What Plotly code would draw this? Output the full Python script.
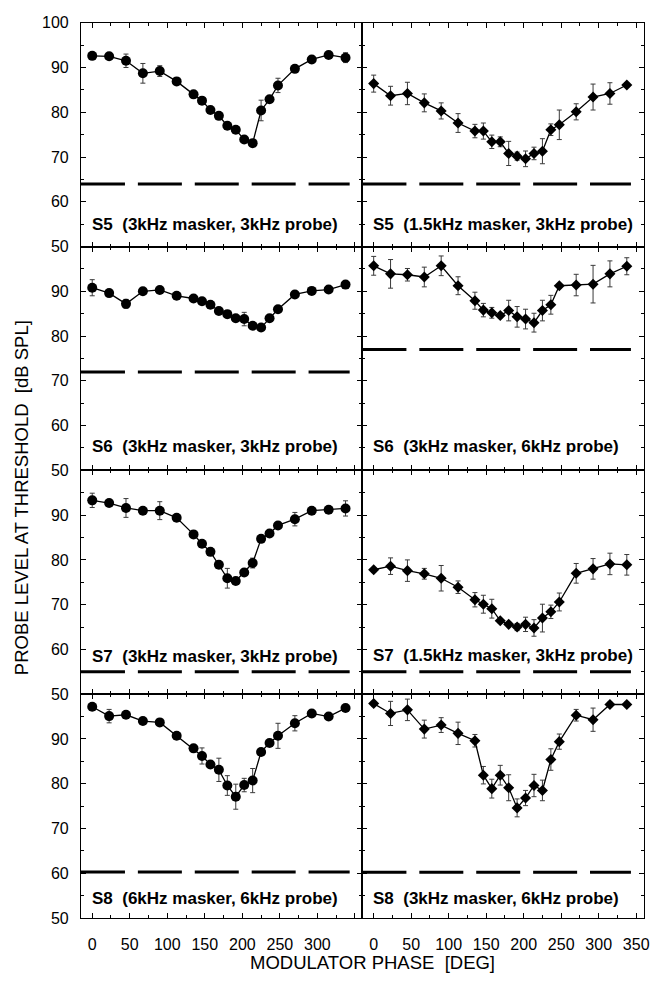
import plotly.graph_objects as go

# Modulator phase (deg) at which thresholds were measured
phase = [0, 22.5, 45, 67.5, 90, 112.5, 135, 146.25, 157.5, 168.75, 180,
         191.25, 202.5, 213.75, 225, 236.25, 247.5, 270, 292.5, 315, 337.5]

# Probe level at threshold (dB SPL) and error half-widths per panel
s5_same = [92.6, 92.5, 91.5, 88.7, 89.2, 86.9, 84.0, 82.6, 80.5, 79.2, 77.0,
           76.1, 73.9, 73.1, 80.4, 82.9, 86.0, 89.7, 91.8, 92.8, 92.2]
s5_same_err = [0.5, 0.5, 1.5, 2.2, 1.2, 0.5, 0.5, 0.5, 0.5, 0.5, 0.5,
               0.5, 0.5, 0.5, 2.3, 0.6, 1.6, 0.5, 0.5, 0.5, 1.1]

s5_cross = [86.4, 83.7, 84.2, 82.1, 80.3, 77.6, 75.8, 75.8, 73.4, 73.4, 70.8,
            70.2, 69.6, 70.8, 71.3, 76.1, 77.2, 80.1, 83.4, 84.2, 86.1]
s5_cross_err = [1.9, 2.1, 2.5, 2.0, 1.8, 2.1, 1.5, 1.8, 1.5, 1.1, 2.7,
                0.9, 1.75, 1.4, 2.8, 1.3, 3.3, 1.8, 2.9, 2.4, 0.5]

s6_same = [90.8, 89.6, 87.2, 90.0, 90.3, 89.0, 88.4, 87.8, 87.0, 85.6, 84.9,
           84.0, 83.8, 82.3, 81.9, 84.0, 86.0, 89.3, 90.1, 90.4, 91.5]
s6_same_err = [1.8, 0.5, 1.0, 0.5, 0.5, 0.5, 0.5, 0.5, 0.5, 0.5, 0.5,
               0.5, 1.5, 0.5, 0.6, 0.5, 0.5, 0.5, 0.5, 0.5, 0.5]

s6_cross = [95.7, 93.9, 93.7, 93.2, 95.7, 91.25, 87.9, 85.8, 85.2, 84.6, 85.7,
            84.3, 83.8, 83.0, 85.7, 87.0, 91.25, 91.4, 91.6, 93.9, 95.6]
s6_cross_err = [2.1, 3.2, 1.4, 2.2, 2.2, 2.0, 1.9, 1.5, 1.2, 0.5, 2.3,
                2.3, 2.2, 2.1, 2.3, 2.1, 0.5, 2.4, 4.2, 2.9, 1.9]

s7_same = [93.3, 92.7, 91.6, 91.0, 91.0, 89.4, 85.7, 83.6, 81.8, 78.9, 75.9,
           75.3, 77.2, 79.3, 84.7, 85.9, 87.7, 89.1, 91.0, 91.2, 91.5]
s7_same_err = [1.6, 0.5, 2.1, 0.5, 2.0, 0.5, 0.5, 0.5, 0.5, 0.5, 2.2,
               0.5, 0.5, 1.1, 0.5, 0.5, 0.5, 1.5, 0.5, 0.5, 1.7]

s7_cross = [77.8, 78.6, 77.6, 76.9, 75.9, 73.9, 71.1, 70.1, 69.1, 66.4, 65.6,
            65.0, 65.6, 64.8, 67.0, 68.4, 70.6, 77.0, 78.0, 79.1, 78.9]
s7_cross_err = [0.5, 1.85, 2.4, 1.2, 2.85, 1.4, 1.6, 2.0, 2.1, 0.5, 0.5,
                0.8, 1.6, 1.85, 3.1, 1.5, 2.0, 2.2, 2.3, 2.4, 2.3]

s8_same = [97.2, 95.1, 95.4, 94.0, 93.7, 90.7, 87.9, 86.2, 84.3, 83.1, 79.6,
           77.1, 79.7, 80.7, 87.1, 89.1, 90.7, 93.5, 95.7, 95.0, 96.9]
s8_same_err = [0.5, 1.5, 0.5, 0.5, 0.5, 0.5, 0.5, 1.8, 0.5, 2.6, 2.2,
               2.8, 1.5, 2.7, 0.5, 0.5, 2.8, 1.7, 0.5, 0.5, 0.5]

s8_cross = [97.9, 95.7, 96.5, 92.2, 93.1, 91.25, 89.6, 81.9, 78.9, 81.9, 79.1,
            74.6, 76.8, 79.6, 78.5, 85.4, 89.4, 95.3, 94.3, 97.7, 97.7]
s8_cross_err = [0.5, 2.7, 2.4, 2.0, 1.65, 2.5, 1.4, 1.95, 2.1, 2.2, 2.9,
                2.0, 1.7, 2.5, 2.3, 2.4, 1.7, 1.3, 2.6, 0.5, 0.5]

# Quiet threshold of the probe (dashed reference line) per panel
quiet = [64.0, 64.0, 72.0, 77.0, 55.0, 55.0, 60.3, 60.2]

panel_labels = [
    "S5  (3kHz masker, 3kHz probe)", "S5  (1.5kHz masker, 3kHz probe)",
    "S6  (3kHz masker, 3kHz probe)", "S6  (3kHz masker, 6kHz probe)",
    "S7  (3kHz masker, 3kHz probe)", "S7  (1.5kHz masker, 3kHz probe)",
    "S8  (6kHz masker, 6kHz probe)", "S8  (3kHz masker, 6kHz probe)",
]
label_levels = [55.0, 55.0, 55.3, 55.3, 58.4, 58.6, 54.3, 54.3]

series = [
    (s5_same, s5_same_err), (s5_cross, s5_cross_err),
    (s6_same, s6_same_err), (s6_cross, s6_cross_err),
    (s7_same, s7_same_err), (s7_cross, s7_cross_err),
    (s8_same, s8_same_err), (s8_cross, s8_cross_err),
]

x_ticks = [0, 50, 100, 150, 200, 250, 300, 350]
y_ticks = [50, 60, 70, 80, 90, 100]

W, H = 670, 984
FONT = "Liberation Sans, Arial, Helvetica, sans-serif"

# panel frame in pixels
col_edges = [(81.7, 365.7), (365.7, 649.5)]
row_top, row_h = 15.0, 227.75
X_RANGE = [-15, 360]
Y_RANGE = [50, 100]

fig = go.Figure()
layout = dict(
    width=W, height=H, margin=dict(l=0, r=0, t=0, b=0),
    paper_bgcolor="white", plot_bgcolor="white", showlegend=False,
    font=dict(family=FONT, size=16, color="black"),
)
shapes, annotations = [], []

for i, (vals, errs) in enumerate(series):
    row, col = divmod(i, 2)
    n = i + 1
    xa = "x" if n == 1 else f"x{n}"
    ya = "y" if n == 1 else f"y{n}"
    xkey = "xaxis" if n == 1 else f"xaxis{n}"
    ykey = "yaxis" if n == 1 else f"yaxis{n}"

    x0p, x1p = col_edges[col]
    top = row_top + row * row_h
    bot = top + row_h

    fig.add_trace(go.Scatter(
        x=phase, y=vals, xaxis=xa, yaxis=ya, mode="lines+markers",
        line=dict(color="black", width=1.3),
        marker=dict(symbol="circle" if col == 0 else "diamond",
                    size=10 if col == 0 else 8.5, color="black"),
        error_y=dict(type="data", array=errs, visible=True,
                     color="#3a3a3a", thickness=1, width=2.5),
        cliponaxis=False,
    ))

    bottom_row = row == 3
    if col == 0:
        xtext = [str(v) for v in x_ticks[:-1]] + [""]
    else:
        xtext = [str(v) for v in x_ticks]
    layout[xkey] = dict(
        domain=[x0p / W, x1p / W], anchor=ya, range=X_RANGE,
        tickmode="array", tickvals=x_ticks, ticktext=xtext,
        showticklabels=bottom_row, ticks="inside", ticklen=5,
        tickcolor="black", tickwidth=1, showline=True, linecolor="black",
        linewidth=1, mirror="ticks", showgrid=False, zeroline=False,
        tickfont=dict(size=16), ticklabelstandoff=12,
        minor=dict(tickvals=[25, 75, 125, 175, 225, 275, 325],
                   ticks="inside", ticklen=3, tickcolor="black"),
    )
    if row == 0:
        ytext = [str(v) for v in y_ticks]
    else:
        ytext = [str(v) for v in y_ticks[:-1]] + [""]
    layout[ykey] = dict(
        domain=[1 - bot / H, 1 - top / H], anchor=xa, range=Y_RANGE,
        tickmode="array", tickvals=y_ticks, ticktext=ytext,
        showticklabels=(col == 0), ticks="inside", ticklen=5,
        tickcolor="black", tickwidth=1, showline=True, linecolor="black",
        linewidth=1, mirror="ticks", showgrid=False, zeroline=False,
        tickfont=dict(size=16), ticklabelstandoff=8,
        minor=dict(tickvals=[55, 65, 75, 85, 95],
                   ticks="inside", ticklen=3, tickcolor="black"),
    )

    # quiet-threshold reference line
    shapes.append(dict(
        type="line", xref=xa, yref=ya, x0=X_RANGE[0], x1=343,
        y0=quiet[i], y1=quiet[i],
        line=dict(color="black", width=3, dash="44px,12.9px"),
    ))

    annotations.append(dict(
        xref=xa, yref=ya, x=-3, y=label_levels[i], text=panel_labels[i],
        showarrow=False, xanchor="left", yanchor="middle",
        font=dict(family=FONT, size=17, color="black", weight="bold"),
    ))

annotations.append(dict(
    xref="paper", yref="paper", x=22 / W, y=1 - 498 / H,
    text="PROBE LEVEL AT THRESHOLD  [dB SPL]", textangle=-90,
    showarrow=False, xanchor="center", yanchor="middle",
    font=dict(family=FONT, size=18.5, color="black"),
))
annotations.append(dict(
    xref="paper", yref="paper", x=376 / W, y=1 - 971 / H,
    text="MODULATOR PHASE  [DEG]", showarrow=False,
    xanchor="center", yanchor="middle",
    font=dict(family=FONT, size=18.5, color="black"),
))

layout["shapes"] = shapes
layout["annotations"] = annotations
fig.update_layout(**layout)
fig.write_html("out.html")
